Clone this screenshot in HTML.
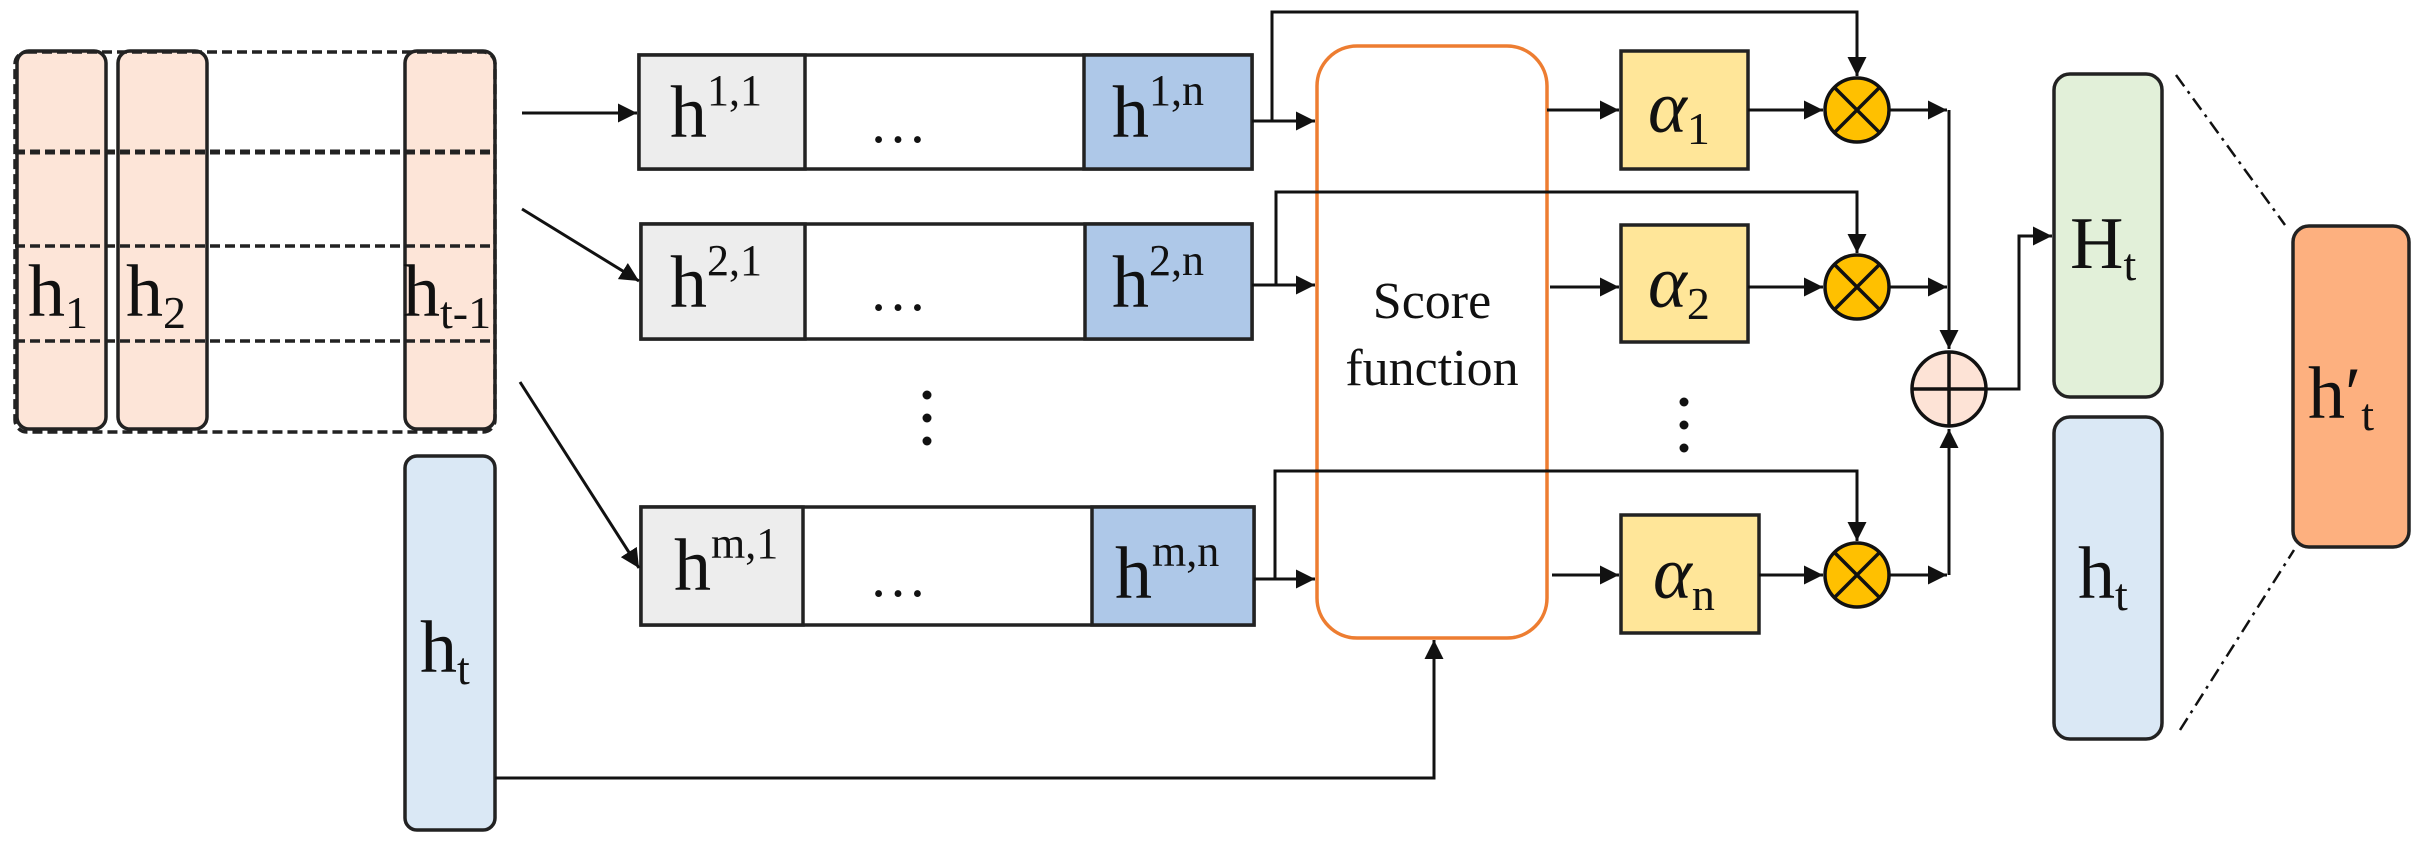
<!DOCTYPE html>
<html><head><meta charset="utf-8"><style>
html,body{margin:0;padding:0;background:#fff;}
svg{display:block}
text{font-family:"Liberation Serif",serif;fill:#111;}
</style></head><body>
<svg width="2421" height="841" viewBox="0 0 2421 841" xmlns="http://www.w3.org/2000/svg">
<defs>
<marker id="b" viewBox="0 0 10 10" refX="10" refY="5" markerWidth="19" markerHeight="19" orient="auto" markerUnits="userSpaceOnUse"><path d="M0,0 L10,5 L0,10 z" fill="#111"/></marker>
</defs>
<g stroke="#222" stroke-width="3.5">
<rect x="17" y="51" width="89" height="378" rx="12" fill="#fde5d8"/>
<rect x="118" y="51" width="89" height="378" rx="12" fill="#fde5d8"/>
<rect x="405" y="51" width="90" height="378" rx="12" fill="#fde5d8"/>
<g fill="none" stroke-dasharray="10,5">
<rect x="15" y="52" width="480" height="380" rx="12"/>
<line x1="15" y1="152" x2="495" y2="152" stroke-width="5"/>
<line x1="15" y1="246" x2="495" y2="246"/>
<line x1="15" y1="341" x2="495" y2="341"/>
</g>
<rect x="405" y="456" width="90" height="374" rx="12" fill="#dae8f5"/>
<rect x="639" y="55" width="613" height="114" fill="#fff"/>
<rect x="639" y="55" width="166" height="114" fill="#ededed"/>
<rect x="1084" y="55" width="168" height="114" fill="#aec8e8"/>
<rect x="641" y="224" width="611" height="115" fill="#fff"/>
<rect x="641" y="224" width="164" height="115" fill="#ededed"/>
<rect x="1085" y="224" width="167" height="115" fill="#aec8e8"/>
<rect x="641" y="507" width="613" height="118" fill="#fff"/>
<rect x="641" y="507" width="162" height="118" fill="#ededed"/>
<rect x="1092" y="507" width="162" height="118" fill="#aec8e8"/>
<rect x="1317" y="46" width="230" height="592" rx="40" fill="#fff" stroke="#ed7d31"/>
<rect x="1621" y="51" width="127" height="118" fill="#ffe699"/>
<rect x="1621" y="225" width="127" height="117" fill="#ffe699"/>
<rect x="1621" y="515" width="138" height="118" fill="#ffe699"/>
<rect x="2054" y="74" width="108" height="323" rx="16" fill="#e2f0d9"/>
<rect x="2054" y="417" width="108" height="322" rx="16" fill="#dae8f5"/>
<rect x="2293" y="226" width="116" height="321" rx="16" fill="#fdb07f"/>
</g>
<g stroke="#111" stroke-width="3" fill="none">
<line x1="522" y1="113" x2="637" y2="113" marker-end="url(#b)"/>
<line x1="522" y1="209" x2="639" y2="281" marker-end="url(#b)"/>
<line x1="520" y1="382" x2="639" y2="568" marker-end="url(#b)"/>
<polyline points="495,778 1434,778 1434,640" marker-end="url(#b)"/>
<line x1="1252" y1="121" x2="1315" y2="121" marker-end="url(#b)"/>
<polyline points="1272,121 1272,12 1857,12 1857,76" marker-end="url(#b)"/>
<line x1="1547" y1="110" x2="1619" y2="110" marker-end="url(#b)"/>
<line x1="1748" y1="110" x2="1823" y2="110" marker-end="url(#b)"/>
<line x1="1890" y1="110" x2="1947" y2="110" marker-end="url(#b)"/>
<line x1="1252" y1="285" x2="1315" y2="285" marker-end="url(#b)"/>
<polyline points="1276,285 1276,192 1857,192 1857,253" marker-end="url(#b)"/>
<line x1="1550" y1="287" x2="1619" y2="287" marker-end="url(#b)"/>
<line x1="1748" y1="287" x2="1823" y2="287" marker-end="url(#b)"/>
<line x1="1890" y1="287" x2="1947" y2="287" marker-end="url(#b)"/>
<line x1="1254" y1="579" x2="1315" y2="579" marker-end="url(#b)"/>
<polyline points="1275,579 1275,471 1857,471 1857,541" marker-end="url(#b)"/>
<line x1="1552" y1="575" x2="1619" y2="575" marker-end="url(#b)"/>
<line x1="1759" y1="575" x2="1823" y2="575" marker-end="url(#b)"/>
<line x1="1890" y1="575" x2="1947" y2="575" marker-end="url(#b)"/>
<line x1="1949" y1="110" x2="1949" y2="349" marker-end="url(#b)"/>
<line x1="1949" y1="575" x2="1949" y2="429" marker-end="url(#b)"/>
<polyline points="1986,389 2019,389 2019,236 2052,236" marker-end="url(#b)"/>
<g stroke-dasharray="14,6,3,6" stroke-width="2.5">
<line x1="2176" y1="75" x2="2285" y2="225"/>
<line x1="2180" y1="730" x2="2294" y2="550"/>
</g>
</g>
<g stroke="#111" stroke-width="3.5">
<g fill="#ffc000">
<circle cx="1857" cy="110" r="32"/><circle cx="1857" cy="287" r="32"/><circle cx="1857" cy="575" r="32"/>
</g>
<path d="M1834,87 L1880,133 M1880,87 L1834,133 M1834,264 L1880,310 M1880,264 L1834,310 M1834,552 L1880,598 M1880,552 L1834,598"/>
<circle cx="1949" cy="389" r="37" fill="#fde3d6"/>
<path d="M1912,389 H1986 M1949,352 V426"/>
</g>
<g fill="#111">
<circle cx="927" cy="395" r="4.5"/><circle cx="927" cy="418" r="4.5"/><circle cx="927" cy="441" r="4.5"/>
<circle cx="1684" cy="402" r="4.5"/><circle cx="1684" cy="425" r="4.5"/><circle cx="1684" cy="448" r="4.5"/>
</g>
<g font-size="74">
<text x="28" y="316">h<tspan font-size="46" dy="12">1</tspan></text>
<text x="126" y="316">h<tspan font-size="46" dy="12">2</tspan></text>
<text x="403" y="316">h<tspan font-size="46" dy="12">t-1</tspan></text>
<text x="420" y="672">h<tspan font-size="46" dy="12">t</tspan></text>
<text x="670" y="137">h<tspan font-size="44" dy="-32">1,1</tspan></text>
<text x="1112" y="137">h<tspan font-size="44" dy="-32">1,n</tspan></text>
<text x="670" y="307">h<tspan font-size="44" dy="-32">2,1</tspan></text>
<text x="1112" y="307">h<tspan font-size="44" dy="-32">2,n</tspan></text>
<text x="674" y="590">h<tspan font-size="44" dy="-32">m,1</tspan></text>
<text x="1115" y="598">h<tspan font-size="44" dy="-32">m,n</tspan></text>
<text x="2070" y="268">H<tspan font-size="46" dy="12">t</tspan></text>
<text x="2078" y="598">h<tspan font-size="46" dy="12">t</tspan></text>
<text x="2308" y="418">h′<tspan font-size="46" dy="12">t</tspan></text>
<text x="1648" y="132" font-style="italic">α<tspan font-size="46" dy="12" font-style="normal">1</tspan></text>
<text x="1648" y="307" font-style="italic">α<tspan font-size="46" dy="12" font-style="normal">2</tspan></text>
<text x="1653" y="598" font-style="italic">α<tspan font-size="46" dy="12" font-style="normal">n</tspan></text>
</g>
<g font-size="58" text-anchor="middle">
<text x="898" y="142">…</text><text x="898" y="310">…</text><text x="898" y="596">…</text>
</g>
<g font-size="52" text-anchor="middle">
<text x="1432" y="318">Score</text>
<text x="1432" y="385">function</text>
</g>
</svg>
</body></html>
